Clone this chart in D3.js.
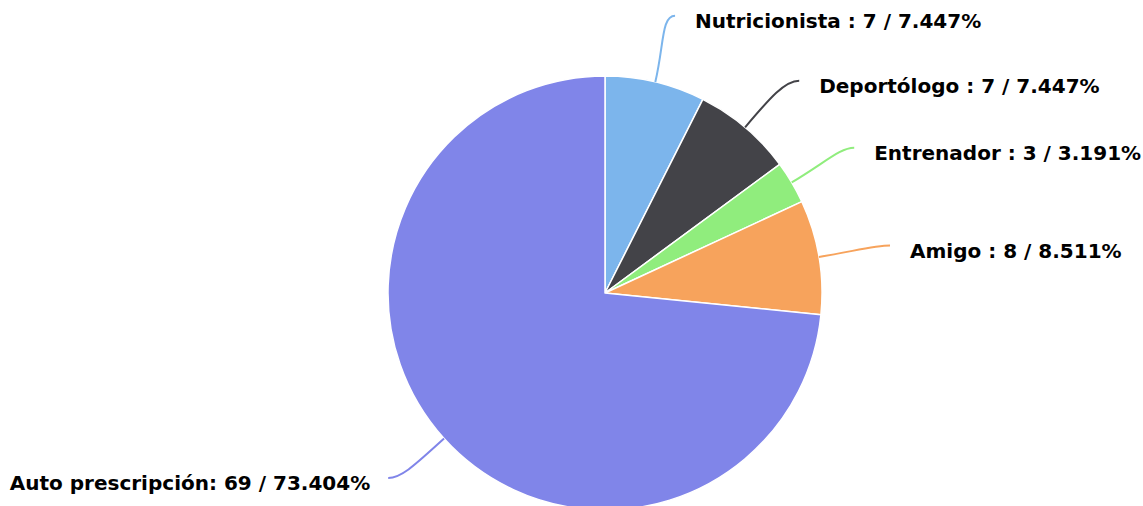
<!DOCTYPE html>
<html><head><meta charset="utf-8">
<script src="https://cdn.jsdelivr.net/npm/d3@7"></script>
<style>html,body{margin:0;padding:0;background:#fff;overflow:hidden}</style>
</head><body>
<svg id="c" width="1143" height="506"></svg>
<script>
const categories = ["Nutricionista", "Deportólogo", "Entrenador", "Amigo", "Auto prescripción"];
const values = [7, 7, 3, 8, 69];
const percentLabels = ["7.447%", "7.447%", "3.191%", "8.511%", "73.404%"];
const colors = ["#7cb5ec", "#434348", "#90ed7d", "#f7a35c", "#8085e9"];

const W = 1143, H = 506;
const cx = 605, cy = 293, r = 217, R = 285;
const svg = d3.select("#c");
const data = categories.map((c, i) => ({ name: c, value: values[i], pct: percentLabels[i], color: colors[i] }));
const pie = d3.pie().sort(null).value(d => d.value);
const arcs = pie(data);
const arc = d3.arc().innerRadius(0).outerRadius(r);
const g = svg.append("g").attr("transform", `translate(${cx},${cy})`);
g.selectAll("path.slice").data(arcs).join("path")
  .attr("class", "slice").attr("d", arc)
  .attr("fill", d => d.data.color).attr("stroke", "#fff").attr("stroke-width", 1.5).attr("stroke-linejoin", "round");

const fontSize = 20;
let prevY = -Infinity;
arcs.forEach((a, i) => {
  const mid = (a.startAngle + a.endAngle) / 2;
  const sx = Math.sin(mid), sy = -Math.cos(mid);
  const right = sx >= 0;
  let ly = R * sy;
  if (right) { ly = Math.max(ly, prevY + 65); prevY = ly; }
  ly = Math.min(ly, H - 28 - cy);
  const lx = (right ? 1 : -1) * Math.sqrt(Math.max(0, R * R - ly * ly)) + (right ? 4 : 0);
  const px = r * sx, py = r * sy;
  const dist = Math.hypot(lx - px, ly - py);
  const c2x = (r + dist * 0.55) * sx, c2y = (r + dist * 0.55) * sy;
  const p = d3.path();
  p.moveTo(lx, ly);
  p.bezierCurveTo(lx + (right ? -1 : 1) * dist * 0.2, ly, c2x, c2y, px, py);
  g.append("path").attr("d", p.toString()).attr("fill", "none")
    .attr("stroke", a.data.color).attr("stroke-width", 2);
  const label = a.data.name === "Auto prescripción"
    ? `${a.data.name}: ${a.data.value} / ${a.data.pct}`
    : `${a.data.name} : ${a.data.value} / ${a.data.pct}`;
  g.append("text")
    .attr("x", lx + (right ? 20 : -18)).attr("y", ly + 12)
    .attr("text-anchor", right ? "start" : "end")
    .attr("font-family", "DejaVu Sans, Verdana, sans-serif")
    .attr("font-weight", "bold").attr("font-size", fontSize)
    .attr("fill", "#000").attr("stroke", "#fff").attr("stroke-width", 2)
    .attr("paint-order", "stroke").attr("stroke-linejoin", "round")
    .text(label);
});
</script>
</body></html>
